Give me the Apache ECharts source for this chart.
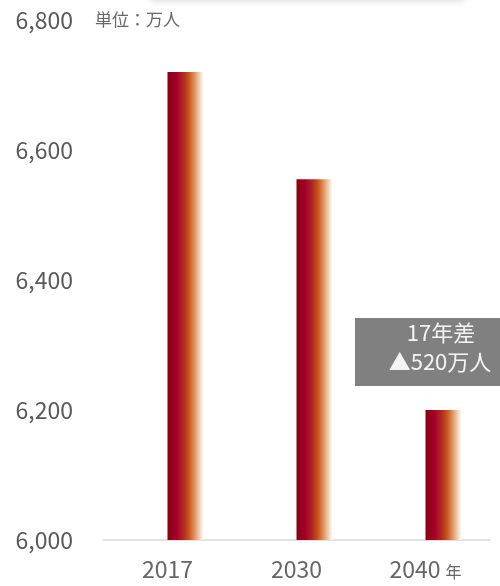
<!DOCTYPE html>
<html>
<head>
<meta charset="utf-8">
<script src="https://cdn.jsdelivr.net/npm/echarts@6/dist/echarts.min.js"></script>
<style>
  html, body { margin: 0; padding: 0; background: #fff; }
  #chart { width: 500px; height: 586px; }
</style>
</head>
<body>
<div id="chart"></div>
<script>
// データ
const years = ['2017', '2030', '2040'];
const population = [6720, 6555, 6200];
const yTicks = [6000, 6200, 6400, 6600, 6800];

const fontJP = '"Noto Sans CJK JP", "Noto Sans", sans-serif';

const chart = echarts.init(document.getElementById('chart'));

const barColor = new echarts.graphic.LinearGradient(0, 0, 1, 0, [
  { offset: 0, color: '#880010' },
  { offset: 0.25, color: '#a3002a' },
  { offset: 0.45, color: '#b22a22' },
  { offset: 0.6, color: '#c8561c' },
  { offset: 0.78, color: '#e3a070' },
  { offset: 1, color: '#ffffff' }
]);

chart.setOption({
  animation: false,
  grid: { left: 103, right: 10, top: 20, bottom: 46 },
  xAxis: {
    type: 'category',
    data: years,
    axisTick: { show: false },
    axisLine: { lineStyle: { color: '#d9d9d9', width: 1.5 } },
    axisLabel: {
      interval: 0,
      margin: 18,
      color: '#666',
      fontSize: 23,
      fontFamily: fontJP,
      formatter: function (v, i) {
        return i === years.length - 1 ? v + ' {u|年}' : v;
      },
      rich: {
        u: { fontSize: 16, color: '#666', fontFamily: fontJP, padding: [4, 0, 0, 0] }
      }
    }
  },
  yAxis: {
    type: 'value',
    min: yTicks[0],
    max: yTicks[yTicks.length - 1],
    interval: 200,
    splitLine: { show: false },
    axisLine: { show: false },
    axisTick: { show: false },
    axisLabel: {
      margin: 30,
      color: '#595959',
      fontSize: 23,
      fontFamily: fontJP,
      formatter: v => v.toLocaleString('en-US')
    }
  },
  series: [
    {
      // 空の系列（棒を右にずらすため）
      type: 'bar',
      data: years.map(() => '-'),
      barWidth: 36,
      barGap: '0%'
    },
    {
      type: 'bar',
      data: population,
      barWidth: 36,
      barGap: '0%',
      itemStyle: { color: barColor }
    }
  ],
  graphic: [
    {
      type: 'rect',
      shape: { x: 150, y: -20, width: 315, height: 20 },
      style: { fill: '#fff', shadowBlur: 6, shadowColor: 'rgba(0,0,0,0.15)', shadowOffsetY: 1 },
      silent: true
    },
    {
      type: 'text',
      left: 95, top: 11,
      style: { text: '単位：万人', fill: '#666', font: '17px ' + fontJP }
    },
    {
      type: 'group',
      left: 355, top: 318,
      children: [
        { type: 'rect', shape: { width: 145, height: 68 }, style: { fill: '#808080' } },
        {
          type: 'text', x: 86, y: 4,
          style: { text: '17年差', fill: '#f4f4f4', font: '22px ' + fontJP, align: 'center' }
        },
        {
          type: 'text', x: 85, y: 33,
          style: { text: '▲520万人', fill: '#f4f4f4', font: '22px ' + fontJP, align: 'center' }
        }
      ]
    }
  ]
});
</script>
</body>
</html>
